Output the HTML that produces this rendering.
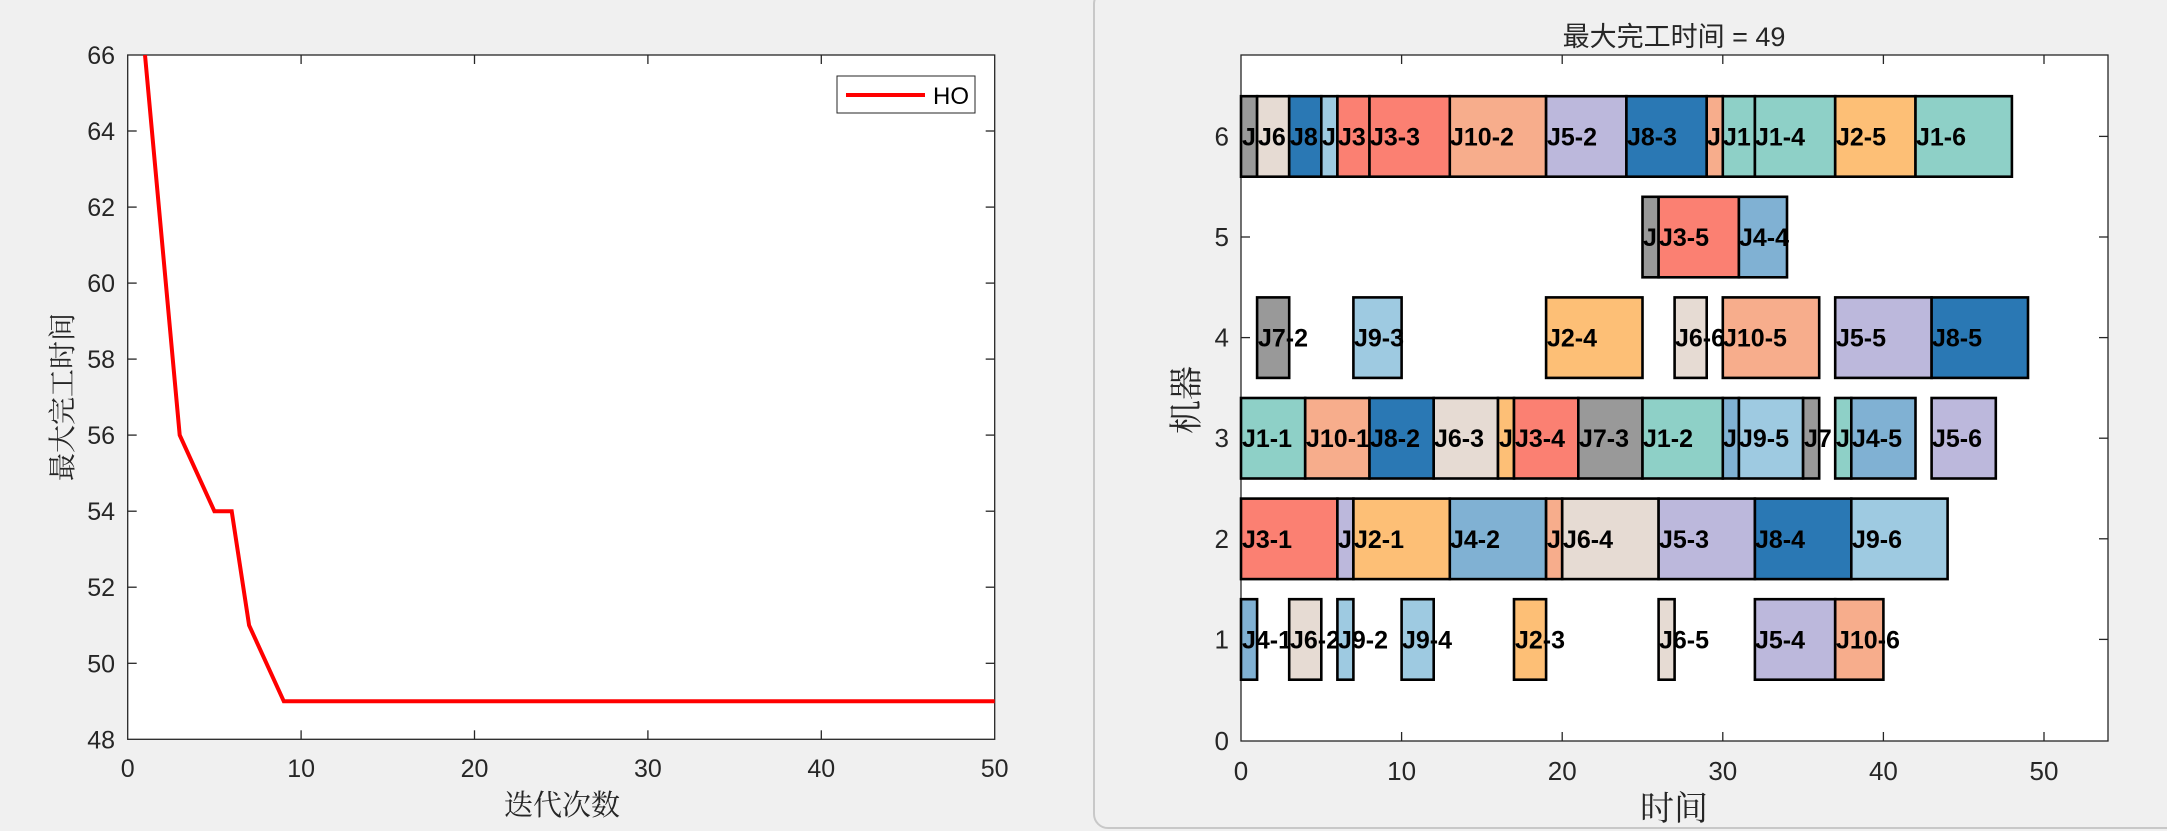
<!DOCTYPE html>
<html><head><meta charset="utf-8"><style>
html,body{margin:0;padding:0;background:#f0f0f0;}
svg{display:block;}
text{font-family:"Liberation Sans","Noto Sans CJK SC",sans-serif;fill:#262626;}
.t{font-size:26px;}
.tl{font-size:25px;}
.b{font-size:25px;font-weight:bold;fill:#000;}
.s{font-family:"Liberation Serif","Noto Serif CJK SC",serif;}
</style></head><body>
<svg width="2167" height="831" viewBox="0 0 2167 831" xmlns="http://www.w3.org/2000/svg">
<rect x="0" y="0" width="2167" height="831" fill="#f0f0f0"/>
<rect x="1094" y="-10" width="1090" height="838" rx="14" fill="#f0f0f0" stroke="#c8c8c8" stroke-width="2"/>
<!-- LEFT AXES -->
<rect x="127.7" y="55" width="867" height="684.3" fill="#fff" stroke="#262626" stroke-width="1.3"/>
<g stroke="#262626" stroke-width="1.3">
<line x1="301.1" y1="739.3" x2="301.1" y2="730.3"/><line x1="474.5" y1="739.3" x2="474.5" y2="730.3"/><line x1="647.9" y1="739.3" x2="647.9" y2="730.3"/><line x1="821.3" y1="739.3" x2="821.3" y2="730.3"/>
<line x1="301.1" y1="55" x2="301.1" y2="64"/><line x1="474.5" y1="55" x2="474.5" y2="64"/><line x1="647.9" y1="55" x2="647.9" y2="64"/><line x1="821.3" y1="55" x2="821.3" y2="64"/>
<line x1="127.7" y1="663.3" x2="136.7" y2="663.3"/><line x1="127.7" y1="587.2" x2="136.7" y2="587.2"/><line x1="127.7" y1="511.2" x2="136.7" y2="511.2"/><line x1="127.7" y1="435.1" x2="136.7" y2="435.1"/><line x1="127.7" y1="359.1" x2="136.7" y2="359.1"/><line x1="127.7" y1="283.1" x2="136.7" y2="283.1"/><line x1="127.7" y1="207.1" x2="136.7" y2="207.1"/><line x1="127.7" y1="131" x2="136.7" y2="131"/>
<line x1="994.7" y1="663.3" x2="985.7" y2="663.3"/><line x1="994.7" y1="587.2" x2="985.7" y2="587.2"/><line x1="994.7" y1="511.2" x2="985.7" y2="511.2"/><line x1="994.7" y1="435.1" x2="985.7" y2="435.1"/><line x1="994.7" y1="359.1" x2="985.7" y2="359.1"/><line x1="994.7" y1="283.1" x2="985.7" y2="283.1"/><line x1="994.7" y1="207.1" x2="985.7" y2="207.1"/><line x1="994.7" y1="131" x2="985.7" y2="131"/>
</g>
<polyline points="145,55 179.7,435.1 214.4,511.2 231.7,511.2 249.1,625.3 283.8,701.3 994.7,701.3" fill="none" stroke="#ff0000" stroke-width="4"/>
<rect x="837" y="76" width="138" height="37" fill="#fff" stroke="#262626" stroke-width="1"/>
<line x1="846" y1="95" x2="925" y2="95" stroke="#ff0000" stroke-width="4"/>
<text x="933" y="104" style="font-size:24px;fill:#000">HO</text>
<g class="tl" text-anchor="end">
<text x="115" y="748.3">48</text><text x="115" y="672.3">50</text><text x="115" y="596.2">52</text><text x="115" y="520.2">54</text><text x="115" y="444.1">56</text><text x="115" y="368.1">58</text><text x="115" y="292.1">60</text><text x="115" y="216.1">62</text><text x="115" y="140">64</text><text x="115" y="64">66</text>
</g>
<g class="tl" text-anchor="middle">
<text x="127.7" y="777">0</text><text x="301.1" y="777">10</text><text x="474.5" y="777">20</text><text x="647.9" y="777">30</text><text x="821.3" y="777">40</text><text x="994.7" y="777">50</text>
</g>
<text class="s" x="562" y="815" text-anchor="middle" style="font-size:29px">迭代次数</text>
<text class="s" transform="translate(72,397) rotate(-90)" text-anchor="middle" style="font-size:28px">最大完工时间</text>

<!-- RIGHT AXES -->
<rect x="1241" y="55" width="867" height="686" fill="#fff" stroke="#262626" stroke-width="1.3"/>
<g stroke="#262626" stroke-width="1.3">
<line x1="1401.6" y1="741" x2="1401.6" y2="732"/><line x1="1562.2" y1="741" x2="1562.2" y2="732"/><line x1="1722.8" y1="741" x2="1722.8" y2="732"/><line x1="1883.4" y1="741" x2="1883.4" y2="732"/><line x1="2044" y1="741" x2="2044" y2="732"/>
<line x1="1401.6" y1="55" x2="1401.6" y2="64"/><line x1="1562.2" y1="55" x2="1562.2" y2="64"/><line x1="1722.8" y1="55" x2="1722.8" y2="64"/><line x1="1883.4" y1="55" x2="1883.4" y2="64"/><line x1="2044" y1="55" x2="2044" y2="64"/>
<line x1="1241" y1="639.4" x2="1250" y2="639.4"/><line x1="1241" y1="538.8" x2="1250" y2="538.8"/><line x1="1241" y1="438.2" x2="1250" y2="438.2"/><line x1="1241" y1="337.6" x2="1250" y2="337.6"/><line x1="1241" y1="237" x2="1250" y2="237"/><line x1="1241" y1="136.4" x2="1250" y2="136.4"/>
<line x1="2108" y1="639.4" x2="2099" y2="639.4"/><line x1="2108" y1="538.8" x2="2099" y2="538.8"/><line x1="2108" y1="438.2" x2="2099" y2="438.2"/><line x1="2108" y1="337.6" x2="2099" y2="337.6"/><line x1="2108" y1="237" x2="2099" y2="237"/><line x1="2108" y1="136.4" x2="2099" y2="136.4"/>
</g>
<g class="t" text-anchor="end">
<text x="1229" y="750">0</text><text x="1229" y="648.4">1</text><text x="1229" y="547.8">2</text><text x="1229" y="447.2">3</text><text x="1229" y="346.6">4</text><text x="1229" y="246">5</text><text x="1229" y="145.4">6</text>
</g>
<g class="t" text-anchor="middle">
<text x="1241" y="780">0</text><text x="1401.6" y="780">10</text><text x="1562.2" y="780">20</text><text x="1722.8" y="780">30</text><text x="1883.4" y="780">40</text><text x="2044" y="780">50</text>
</g>
<text x="1674" y="46" text-anchor="middle" style="font-size:27px">最大完工时间 = 49</text>
<text class="s" x="1674" y="820" text-anchor="middle" style="font-size:34px">时间</text>
<text class="s" transform="translate(1198,400) rotate(-90)" text-anchor="middle" style="font-size:34px">机器</text>

<g stroke="#000" stroke-width="2.6">
<rect x="1241" y="96.2" width="16.1" height="80.5" fill="#999999"/><text class="b" x="1242" y="145.4" stroke="none">J</text>
<rect x="1257.1" y="96.2" width="32.1" height="80.5" fill="#e6dbd3"/><text class="b" x="1258" y="145.4" stroke="none">J6</text>
<rect x="1289.2" y="96.2" width="32.1" height="80.5" fill="#2a78b4"/><text class="b" x="1290" y="145.4" stroke="none">J8</text>
<rect x="1321.3" y="96.2" width="16.1" height="80.5" fill="#9ecae1"/><text class="b" x="1322" y="145.4" stroke="none">J</text>
<rect x="1337.4" y="96.2" width="32.1" height="80.5" fill="#fb8072"/><text class="b" x="1338" y="145.4" stroke="none">J3</text>
<rect x="1369.5" y="96.2" width="80.3" height="80.5" fill="#fb8072"/><text class="b" x="1370" y="145.4" stroke="none">J3-3</text>
<rect x="1449.8" y="96.2" width="96.3" height="80.5" fill="#f7ad8c"/><text class="b" x="1450" y="145.4" stroke="none">J10-2</text>
<rect x="1546.1" y="96.2" width="80.3" height="80.5" fill="#bcb8dc"/><text class="b" x="1547" y="145.4" stroke="none">J5-2</text>
<rect x="1626.4" y="96.2" width="80.3" height="80.5" fill="#2a78b4"/><text class="b" x="1627" y="145.4" stroke="none">J8-3</text>
<rect x="1706.7" y="96.2" width="16.1" height="80.5" fill="#f7ad8c"/><text class="b" x="1707" y="145.4" stroke="none">J</text>
<rect x="1722.8" y="96.2" width="32.1" height="80.5" fill="#8ed0c7"/><text class="b" x="1723" y="145.4" stroke="none">J1</text>
<rect x="1754.9" y="96.2" width="80.3" height="80.5" fill="#8ed0c7"/><text class="b" x="1755" y="145.4" stroke="none">J1-4</text>
<rect x="1835.2" y="96.2" width="80.3" height="80.5" fill="#fdbf76"/><text class="b" x="1836" y="145.4" stroke="none">J2-5</text>
<rect x="1915.5" y="96.2" width="96.4" height="80.5" fill="#8ed0c7"/><text class="b" x="1916" y="145.4" stroke="none">J1-6</text>
<rect x="1642.5" y="196.8" width="16.1" height="80.5" fill="#999999"/><text class="b" x="1643" y="246" stroke="none">J</text>
<rect x="1658.6" y="196.8" width="80.3" height="80.5" fill="#fb8072"/><text class="b" x="1659" y="246" stroke="none">J3-5</text>
<rect x="1738.9" y="196.8" width="48.1" height="80.5" fill="#80b1d3"/><text class="b" x="1739" y="246" stroke="none">J4-4</text>
<rect x="1257.1" y="297.4" width="32.1" height="80.5" fill="#999999"/><text class="b" x="1258" y="346.6" stroke="none">J7-2</text>
<rect x="1353.4" y="297.4" width="48.2" height="80.5" fill="#9ecae1"/><text class="b" x="1354" y="346.6" stroke="none">J9-3</text>
<rect x="1546.1" y="297.4" width="96.4" height="80.5" fill="#fdbf76"/><text class="b" x="1547" y="346.6" stroke="none">J2-4</text>
<rect x="1674.6" y="297.4" width="32.1" height="80.5" fill="#e6dbd3"/><text class="b" x="1675" y="346.6" stroke="none">J6-6</text>
<rect x="1722.8" y="297.4" width="96.4" height="80.5" fill="#f7ad8c"/><text class="b" x="1723" y="346.6" stroke="none">J10-5</text>
<rect x="1835.2" y="297.4" width="96.4" height="80.5" fill="#bcb8dc"/><text class="b" x="1836" y="346.6" stroke="none">J5-5</text>
<rect x="1931.6" y="297.4" width="96.4" height="80.5" fill="#2a78b4"/><text class="b" x="1932" y="346.6" stroke="none">J8-5</text>
<rect x="1241" y="398" width="64.2" height="80.5" fill="#8ed0c7"/><text class="b" x="1242" y="447.2" stroke="none">J1-1</text>
<rect x="1305.2" y="398" width="64.3" height="80.5" fill="#f7ad8c"/><text class="b" x="1306" y="447.2" stroke="none">J10-1</text>
<rect x="1369.5" y="398" width="64.2" height="80.5" fill="#2a78b4"/><text class="b" x="1370" y="447.2" stroke="none">J8-2</text>
<rect x="1433.7" y="398" width="64.3" height="80.5" fill="#e6dbd3"/><text class="b" x="1434" y="447.2" stroke="none">J6-3</text>
<rect x="1498" y="398" width="16" height="80.5" fill="#fdbf76"/><text class="b" x="1499" y="447.2" stroke="none">J</text>
<rect x="1514" y="398" width="64.3" height="80.5" fill="#fb8072"/><text class="b" x="1515" y="447.2" stroke="none">J3-4</text>
<rect x="1578.3" y="398" width="64.2" height="80.5" fill="#999999"/><text class="b" x="1579" y="447.2" stroke="none">J7-3</text>
<rect x="1642.5" y="398" width="80.3" height="80.5" fill="#8ed0c7"/><text class="b" x="1643" y="447.2" stroke="none">J1-2</text>
<rect x="1722.8" y="398" width="16.1" height="80.5" fill="#80b1d3"/><text class="b" x="1723" y="447.2" stroke="none">J</text>
<rect x="1738.9" y="398" width="64.2" height="80.5" fill="#9ecae1"/><text class="b" x="1739" y="447.2" stroke="none">J9-5</text>
<rect x="1803.1" y="398" width="16.1" height="80.5" fill="#999999"/><text class="b" x="1804" y="447.2" stroke="none">J7</text>
<rect x="1835.2" y="398" width="16.1" height="80.5" fill="#8ed0c7"/><text class="b" x="1836" y="447.2" stroke="none">J</text>
<rect x="1851.3" y="398" width="64.2" height="80.5" fill="#80b1d3"/><text class="b" x="1852" y="447.2" stroke="none">J4-5</text>
<rect x="1931.6" y="398" width="64.2" height="80.5" fill="#bcb8dc"/><text class="b" x="1932" y="447.2" stroke="none">J5-6</text>
<rect x="1241" y="498.6" width="96.4" height="80.5" fill="#fb8072"/><text class="b" x="1242" y="547.8" stroke="none">J3-1</text>
<rect x="1337.4" y="498.6" width="16" height="80.5" fill="#bcb8dc"/><text class="b" x="1338" y="547.8" stroke="none">J</text>
<rect x="1353.4" y="498.6" width="96.4" height="80.5" fill="#fdbf76"/><text class="b" x="1354" y="547.8" stroke="none">J2-1</text>
<rect x="1449.8" y="498.6" width="96.3" height="80.5" fill="#80b1d3"/><text class="b" x="1450" y="547.8" stroke="none">J4-2</text>
<rect x="1546.1" y="498.6" width="16.1" height="80.5" fill="#f7ad8c"/><text class="b" x="1547" y="547.8" stroke="none">J</text>
<rect x="1562.2" y="498.6" width="96.4" height="80.5" fill="#e6dbd3"/><text class="b" x="1563" y="547.8" stroke="none">J6-4</text>
<rect x="1658.6" y="498.6" width="96.3" height="80.5" fill="#bcb8dc"/><text class="b" x="1659" y="547.8" stroke="none">J5-3</text>
<rect x="1754.9" y="498.6" width="96.4" height="80.5" fill="#2a78b4"/><text class="b" x="1755" y="547.8" stroke="none">J8-4</text>
<rect x="1851.3" y="498.6" width="96.3" height="80.5" fill="#9ecae1"/><text class="b" x="1852" y="547.8" stroke="none">J9-6</text>
<rect x="1241" y="599.2" width="16.1" height="80.5" fill="#80b1d3"/><text class="b" x="1242" y="648.4" stroke="none">J4-1</text>
<rect x="1289.2" y="599.2" width="32.1" height="80.5" fill="#e6dbd3"/><text class="b" x="1290" y="648.4" stroke="none">J6-2</text>
<rect x="1337.4" y="599.2" width="16" height="80.5" fill="#9ecae1"/><text class="b" x="1338" y="648.4" stroke="none">J9-2</text>
<rect x="1401.6" y="599.2" width="32.1" height="80.5" fill="#9ecae1"/><text class="b" x="1402" y="648.4" stroke="none">J9-4</text>
<rect x="1514" y="599.2" width="32.1" height="80.5" fill="#fdbf76"/><text class="b" x="1515" y="648.4" stroke="none">J2-3</text>
<rect x="1658.6" y="599.2" width="16" height="80.5" fill="#e6dbd3"/><text class="b" x="1659" y="648.4" stroke="none">J6-5</text>
<rect x="1754.9" y="599.2" width="80.3" height="80.5" fill="#bcb8dc"/><text class="b" x="1755" y="648.4" stroke="none">J5-4</text>
<rect x="1835.2" y="599.2" width="48.2" height="80.5" fill="#f7ad8c"/><text class="b" x="1836" y="648.4" stroke="none">J10-6</text>
</g>
</svg>
</body></html>
